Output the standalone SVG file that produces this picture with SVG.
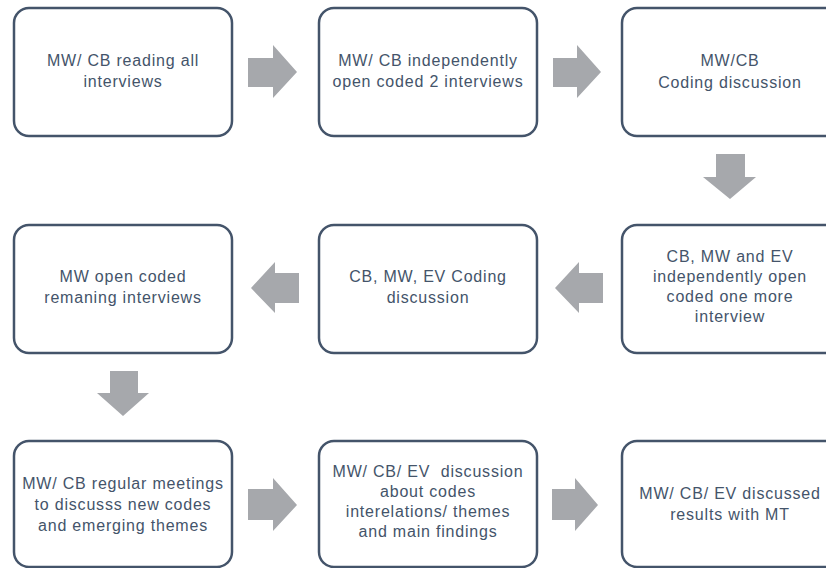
<svg xmlns="http://www.w3.org/2000/svg" width="826" height="568" viewBox="0 0 826 568">
<style>
.box{fill:#ffffff;stroke:#44546a;stroke-width:2.5}
.t{font-family:"Liberation Sans",Arial,sans-serif;font-size:16px;letter-spacing:0.8px;fill:#44546a;text-anchor:middle;white-space:pre}
.arr{fill:#a6a8ac}
</style>
<rect width="826" height="568" fill="#ffffff"/>
<g id="connectors">
<polygon class="arr" points="248,58 273,58 273,45 297,72 273,98 273,87 248,87"/>
<polygon class="arr" points="553,58 577,58 577,45 601,72 577,98 577,87 553,87"/>
<polygon class="arr" points="716,154 745,154 745,177 756,177 730,199 703,177 716,177"/>
<polygon class="arr" points="603,273 579,273 579,262 555,288 579,313 579,303 603,303"/>
<polygon class="arr" points="299,273 275,273 275,262 251,288 275,313 275,303 299,303"/>
<polygon class="arr" points="110,371 138,371 138,393 149,393 123,416 97,393 110,393"/>
<polygon class="arr" points="248,489 273,489 273,478 297,505 273,531 273,520 248,520"/>
<polygon class="arr" points="552,489 575,489 575,478 598,505 575,531 575,520 552,520"/>
</g>
<g id="n1"><rect class="box" x="14" y="8" width="218" height="128" rx="15"/>
<text class="t" x="123" y="66">MW/ CB reading all</text><text class="t" x="123" y="87">interviews</text></g>
<g id="n2"><rect class="box" x="319" y="8" width="218" height="128" rx="15"/>
<text class="t" x="428" y="66">MW/ CB independently</text><text class="t" x="428" y="87">open coded 2 interviews</text></g>
<g id="n3"><rect class="box" x="622" y="8" width="218" height="128" rx="15"/>
<text class="t" x="730" y="66">MW/CB</text><text class="t" x="730" y="88">Coding discussion</text></g>
<g id="n4"><rect class="box" x="622" y="225" width="218" height="128" rx="15"/>
<text class="t" x="730" y="262">CB, MW and EV</text><text class="t" x="730" y="282">independently open</text><text class="t" x="730" y="302">coded one more</text><text class="t" x="730" y="322">interview</text></g>
<g id="n5"><rect class="box" x="319" y="225" width="218" height="128" rx="15"/>
<text class="t" x="428" y="282">CB, MW, EV Coding</text><text class="t" x="428" y="303">discussion</text></g>
<g id="n6"><rect class="box" x="14" y="225" width="218" height="128" rx="15"/>
<text class="t" x="123" y="282">MW open coded</text><text class="t" x="123" y="303">remaning interviews</text></g>
<g id="n7"><rect class="box" x="14" y="441" width="218" height="126" rx="15"/>
<text class="t" x="123" y="489">MW/ CB regular meetings</text><text class="t" x="123" y="510">to discusss new codes</text><text class="t" x="123" y="531">and emerging themes</text></g>
<g id="n8"><rect class="box" x="319" y="441" width="218" height="126" rx="15"/>
<text class="t" x="428" y="477">MW/ CB/ EV  discussion</text><text class="t" x="428" y="497">about codes</text><text class="t" x="428" y="517">interelations/ themes</text><text class="t" x="428" y="537">and main findings</text></g>
<g id="n9"><rect class="box" x="622" y="441" width="218" height="126" rx="15"/>
<text class="t" x="730" y="499">MW/ CB/ EV discussed</text><text class="t" x="730" y="520">results with MT</text></g>
</svg>
